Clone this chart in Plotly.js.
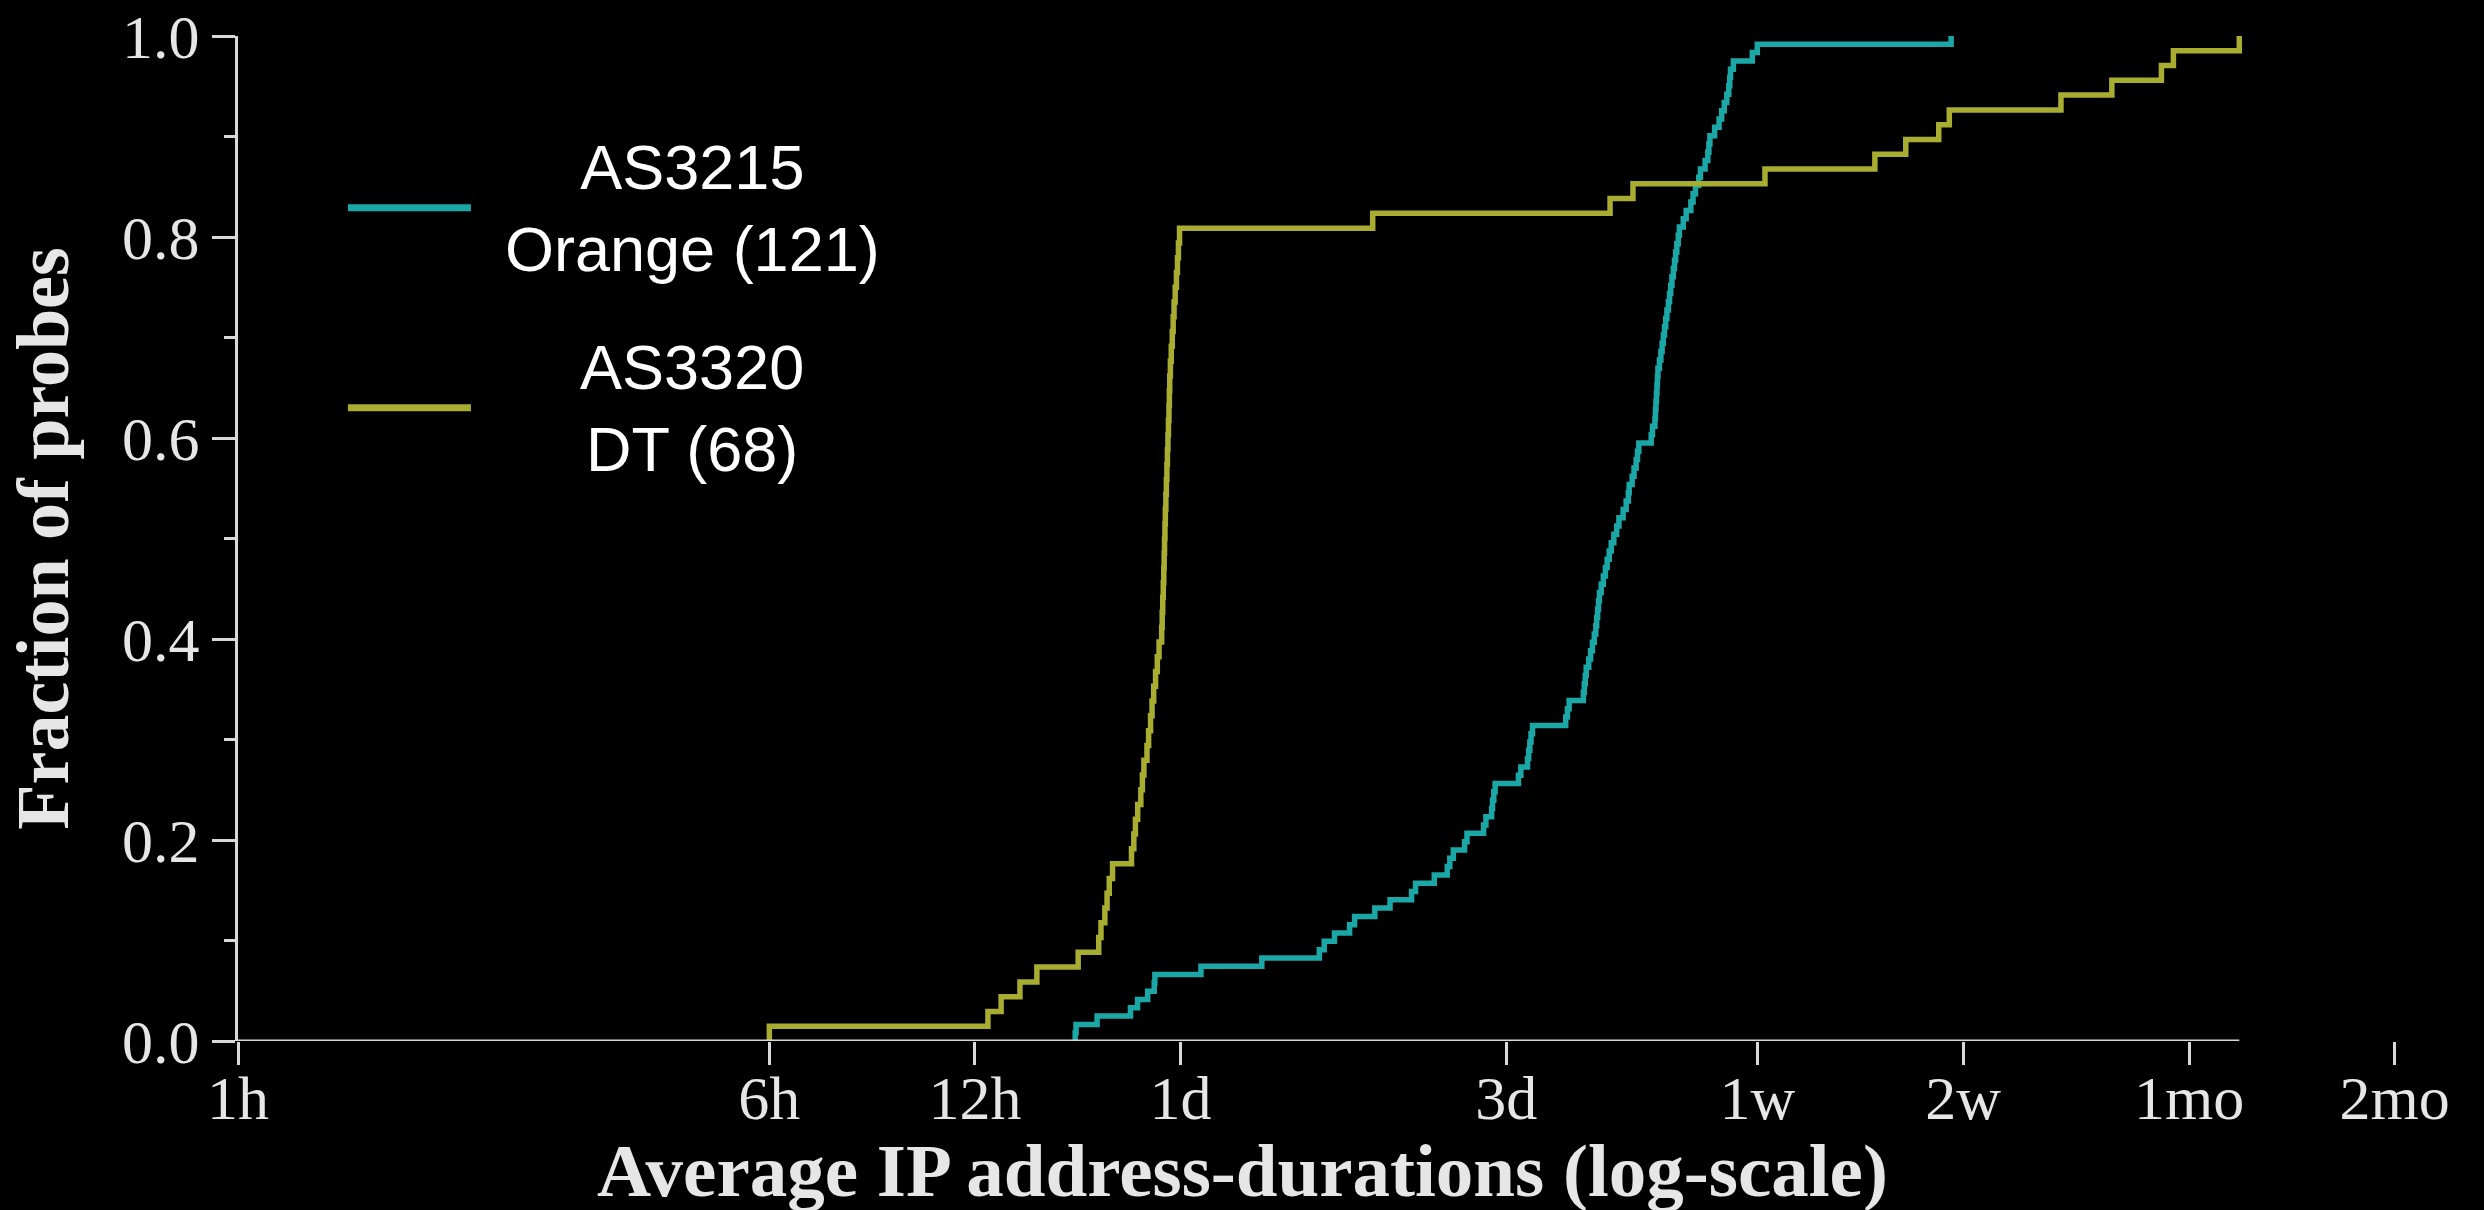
<!DOCTYPE html>
<html>
<head>
<meta charset="utf-8">
<script src="https://cdn.plot.ly/plotly-3.0.1.min.js"></script>
<style>
  html, body { margin: 0; padding: 0; background: #000; }
  #chart { width: 2484px; height: 1210px; }
</style>
</head>
<body>
<div id="chart"></div>
<script>
// Average IP address duration of each probe, in hours.
const orangeHours = [
  16.83, 16.88, 18.12, 20.28, 20.77, 21.49, 21.97, 22.02, 25.72, 31.58,
  38.34, 38.98, 40.35, 42.46, 43.18, 46.23, 48.66, 52.33, 53.04, 56.49,
  59.02, 59.53, 60.24, 62.57, 63.08, 66.72, 67.23, 68.55, 68.75, 69.05,
  69.36, 75.03, 75.64, 77.36, 77.67, 77.97, 78.28, 78.68, 88.0, 88.51,
  89.02, 93.4, 93.7, 94.0, 94.3, 95.1, 95.7, 96.3, 96.9, 97.4,
  97.7, 98.0, 98.3, 98.6, 99.2, 99.9, 100.6, 101.2, 101.9, 102.6,
  103.5, 104.5, 105.3, 106.8, 107.9, 108.7, 109.0, 110.1, 110.8, 111.6,
  112.1, 112.6, 117.4, 117.9, 118.9, 119.1, 119.3, 119.5, 119.7, 119.9,
  120.1, 120.7, 121.3, 121.8, 122.3, 122.8, 123.3, 123.8, 124.4, 124.9,
  125.4, 125.9, 126.5, 127.0, 127.5, 128.0, 128.6, 129.1, 130.8, 132.1,
  134.2, 135.2, 136.3, 137.8, 138.6, 140.8, 142.1, 142.6, 143.1, 145.4,
  147.6, 148.9, 150.2, 151.5, 152.5, 153.0, 153.4, 154.9, 165.1, 167.9,
  322.8
];
const dtHours = [
  6.0, 12.54, 13.11, 13.97, 14.79, 17.0, 18.22, 18.36, 18.6, 18.74,
  18.88, 19.09, 20.35, 20.51, 20.62, 20.78, 21.0, 21.11, 21.22, 21.44,
  21.56, 21.7, 21.81, 21.93, 22.07, 22.2, 22.33, 22.53, 22.57, 22.61,
  22.65, 22.69, 22.72, 22.75, 22.78, 22.81, 22.85, 22.89, 22.93, 22.97,
  23.01, 23.05, 23.09, 23.12, 23.15, 23.2, 23.27, 23.35, 23.42, 23.49,
  23.58, 23.68, 23.76, 23.84, 23.93, 45.9, 102.2, 110.4, 172.3, 249.6,
  277, 309.6, 320.8, 467.5, 555, 656, 683, 853
];

const seriesNames = ['AS3215<br>Orange', 'AS3320<br>DT'];
const seriesColors = ['#1ba7a6', '#a8ac30'];

const tickHours = [1, 6, 12, 24, 72, 168, 336, 720, 1440];
const tickLabels = ['1h', '6h', '12h', '1d', '3d', '1w', '2w', '1mo', '2mo'];
const fractionTicks = [0, 0.2, 0.4, 0.6, 0.8, 1.0];
const fractionMinorTicks = [0.1, 0.3, 0.5, 0.7, 0.9];

// Empirical CDF as a step line: start at (first, 0), then rise 1/n at each value.
function ecdf(values) {
  const s = values.slice().sort((a, b) => a - b);
  const n = s.length;
  const x = [s[0]], y = [0];
  s.forEach((v, i) => { x.push(v); y.push((i + 1) / n); });
  return { x, y };
}

const groups = [orangeHours, dtHours];
const traces = groups.map((vals, i) => {
  const c = ecdf(vals);
  return {
    type: 'scatter', mode: 'lines',
    x: c.x, y: c.y,
    line: { shape: 'hv', color: seriesColors[i], width: 5.5 },
    name: seriesNames[i] + ' (' + vals.length + ')',
    hoverinfo: 'skip'
  };
});

const axisGray = '#d9d9d9';
const textGray = '#e6e6e6';
const serif = 'Liberation Serif, Times New Roman, serif';
const sans = 'Liberation Sans, Arial, sans-serif';

const xRange = [0, 3.2];
const toPaperX = h => (Math.log10(h) - xRange[0]) / (xRange[1] - xRange[0]);
const dataMax = Math.max(...orangeHours, ...dtHours);

// x baseline drawn only across the span of the data (trimmed spine)
const shapes = [{
  type: 'line', xref: 'paper', yref: 'y',
  x0: toPaperX(tickHours[0]), x1: toPaperX(dataMax), y0: 0, y1: 0,
  line: { color: axisGray, width: 3 }, layer: 'above'
}];

// Legend: line keys with centred two-line labels
const legendKeyX = [0.0503, 0.1066];
const legendRowY = [0.829, 0.630];
const legendTextX = 0.2078;
const annotations = [];
traces.forEach((t, i) => {
  shapes.push({
    type: 'line', xref: 'paper', yref: 'paper',
    x0: legendKeyX[0], x1: legendKeyX[1], y0: legendRowY[i], y1: legendRowY[i],
    line: { color: seriesColors[i], width: 7 }
  });
  annotations.push({
    xref: 'paper', yref: 'paper', x: legendTextX, y: legendRowY[i],
    xanchor: 'center', yanchor: 'middle', align: 'center', showarrow: false,
    text: t.name, font: { family: sans, size: 63, color: '#ffffff' }
  });
});

annotations.push({
  xref: 'paper', yref: 'paper', x: 0.4595, y: -0.129,
  xanchor: 'center', yanchor: 'middle', showarrow: false,
  text: 'Average IP address-durations (log-scale)',
  font: { family: serif, size: 75, color: textGray, weight: 700 }
});

const layout = {
  width: 2484, height: 1210,
  paper_bgcolor: '#000000', plot_bgcolor: '#000000',
  margin: { l: 238, r: 61, t: 36, b: 169 },
  showlegend: false,
  xaxis: {
    type: 'log', range: xRange,
    tickmode: 'array', tickvals: tickHours, ticktext: tickLabels,
    ticks: 'outside', ticklen: 23, tickwidth: 3, tickcolor: axisGray,
    ticklabelstandoff: -20,
    showline: false, showgrid: false, zeroline: false,
    tickfont: { family: serif, size: 62, color: textGray }
  },
  yaxis: {
    range: [0, 1],
    tickmode: 'array', tickvals: fractionTicks,
    ticktext: fractionTicks.map(v => v.toFixed(1)),
    ticks: 'outside', ticklen: 23, tickwidth: 3, tickcolor: axisGray,
    minor: { tickmode: 'array', tickvals: fractionMinorTicks, ticks: 'outside',
             ticklen: 11, tickwidth: 3, tickcolor: axisGray },
    showline: true, linecolor: axisGray, linewidth: 3,
    showgrid: false, zeroline: false,
    tickfont: { family: serif, size: 62, color: textGray },
    title: { text: 'Fraction of probes', standoff: 30,
             font: { family: serif, size: 74, color: textGray, weight: 700 } }
  },
  shapes: shapes,
  annotations: annotations
};

Plotly.newPlot('chart', traces, layout, { displayModeBar: false, staticPlot: true });
</script>
</body>
</html>
